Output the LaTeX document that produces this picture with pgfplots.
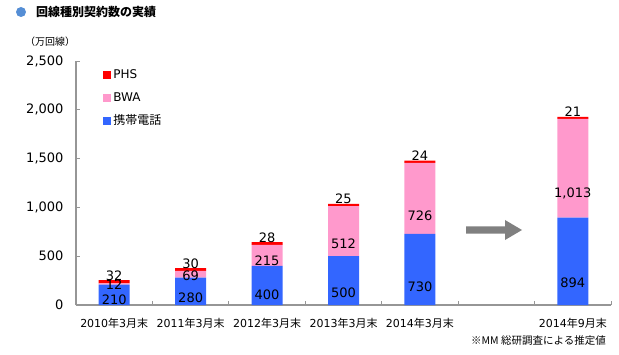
\documentclass[border=0pt]{standalone}
\usepackage{pgfplots}
\pgfplotsset{compat=1.18}
\usepackage{fontspec}
\setmainfont{DejaVu Sans}
\newfontfamily\cjk{Noto Sans CJK JP}
\newcommand\J[1]{{\cjk #1}}
\definecolor{phs}{RGB}{255,0,0}
\definecolor{bwa}{RGB}{255,153,204}
\definecolor{mob}{RGB}{51,102,255}
\definecolor{axgray}{RGB}{150,150,150}
\definecolor{dotblue}{RGB}{85,142,213}
\definecolor{arrowgray}{RGB}{128,128,128}
\pgfplotsset{
  calcoff/.code={%
    \pgfkeys{/pgf/fpu=true,/pgf/fpu/output format=fixed}%
    \pgfmathsetmacro\myoff{\pgfplotspointmeta*0.0244}%
    \pgfkeys{/pgf/fpu=false}%
  },
  centered label/.style={
    nodes near coords,
    every node near coord/.append style={
      anchor=center,
      /pgfplots/calcoff,
      yshift=-\myoff pt
    }
  }
}
\begin{document}
\begin{tikzpicture}
\path[use as bounding box] (0pt,0pt) rectangle (619pt,354pt);
\begin{axis}[
  at={(76pt,49pt)}, anchor=south west,
  scale only axis, width=535pt, height=244pt,
  ybar stacked, bar width=31pt,
  xmin=-0.5, xmax=6.5, ymin=0, ymax=2500,
  xtick={-0.5,0.5,1.5,2.5,3.5,4.5,5.5,6.5},
  xticklabels={2010\J{年}3\J{月末},2011\J{年}3\J{月末},2012\J{年}3\J{月末},2013\J{年}3\J{月末},2014\J{年}3\J{月末},{},2014\J{年}9\J{月末},{}},
  xticklabel style={xshift=38.25pt, yshift=-10pt, font=\fontsize{11}{13}\selectfont},
  ytick={0,500,1000,1500,2000,2500},
  yticklabel style={xshift=-9pt, font=\fontsize{13}{15}\selectfont},
  /pgf/number format/assume math mode=true,
  /pgf/number format/1000 sep={,},
  axis x line=bottom, axis y line=left,
  axis line style={-, draw=axgray, line width=1.5pt},
  tick align=inside,
  major tick length=4pt,
  tick style={draw=axgray, line width=1pt},
  every node near coord/.append style={font=\fontsize{13}{15}\selectfont, text=black, inner sep=1pt},
  legend style={at={(0.045,0.98)}, anchor=north west, draw=none, fill=none,
    font=\fontsize{12}{14}\selectfont, row sep=8pt},
  legend cell align=left,
  reverse legend,
  legend image code/.code={\fill[#1] (0pt,-4pt) rectangle (8pt,4pt);},
]
\addplot[fill=mob, draw=none, centered label] coordinates {(0,210) (1,280) (2,400) (3,500) (4,730) (6,894)};
\addlegendentry{\J{携帯電話}}
\addplot[fill=bwa, draw=none, centered label] coordinates {(0,12) (1,69) (2,215) (3,512) (4,726) (6,1013)};
\addlegendentry{BWA}
\addplot[fill=phs, draw=none, nodes near coords, every node near coord/.append style={anchor=south}] coordinates {(0,32) (1,30) (2,28) (3,25) (4,24) (6,21)};
\addlegendentry{PHS}
\end{axis}
\fill[dotblue] (21pt,342pt) circle (5pt);
\node[anchor=west, inner sep=0pt, font=\fontsize{12}{14}\selectfont\cjk\bfseries] at (36pt,342pt) {回線種別契約数の実績};
\node[anchor=west, inner sep=0pt, font=\fontsize{10}{12}\selectfont\cjk] at (25pt,312pt) {（万回線）};
\node[anchor=east, inner sep=0pt, font=\fontsize{10.5}{12}\selectfont\cjk] at (606pt,13pt) {※MM 総研調査による推定値};
\fill[arrowgray] (466pt,120.5pt) -- (505pt,120.5pt) -- (505pt,114pt) -- (522pt,124pt) -- (505pt,134pt) -- (505pt,127.5pt) -- (466pt,127.5pt) -- cycle;
\end{tikzpicture}
\end{document}
